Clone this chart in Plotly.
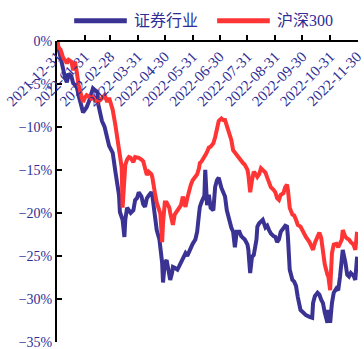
import plotly.graph_objects as go

# Trading-day samples (cumulative return since 2021-12-31, in %)
dates = [
    "2021-12-31", "2022-01-02", "2022-01-04", "2022-01-07", "2022-01-09", "2022-01-11",
    "2022-01-13", "2022-01-16", "2022-01-18", "2022-01-20", "2022-01-22", "2022-01-24",
    "2022-01-27", "2022-01-29", "2022-01-31", "2022-02-02", "2022-02-05", "2022-02-07",
    "2022-02-09", "2022-02-11", "2022-02-14", "2022-02-15", "2022-02-17", "2022-02-19",
    "2022-02-22", "2022-02-25", "2022-02-27", "2022-03-01", "2022-03-03", "2022-03-06",
    "2022-03-08", "2022-03-10", "2022-03-11", "2022-03-13", "2022-03-14", "2022-03-16",
    "2022-03-17", "2022-03-19", "2022-03-21", "2022-03-23", "2022-03-26", "2022-03-28",
    "2022-03-30", "2022-04-01", "2022-04-04", "2022-04-06", "2022-04-08", "2022-04-10",
    "2022-04-12", "2022-04-15", "2022-04-16", "2022-04-17", "2022-04-19", "2022-04-21",
    "2022-04-24", "2022-04-25", "2022-04-26", "2022-04-27", "2022-04-28", "2022-04-29",
    "2022-04-30", "2022-05-02", "2022-05-05", "2022-05-06", "2022-05-08", "2022-05-09",
    "2022-05-11", "2022-05-14", "2022-05-16", "2022-05-18", "2022-05-20", "2022-05-23",
    "2022-05-25", "2022-05-27", "2022-05-29", "2022-05-31", "2022-06-03", "2022-06-05",
    "2022-06-07", "2022-06-08", "2022-06-10", "2022-06-13", "2022-06-14", "2022-06-16",
    "2022-06-18", "2022-06-20", "2022-06-23", "2022-06-25", "2022-06-27", "2022-06-29",
    "2022-07-02", "2022-07-04", "2022-07-06", "2022-07-08", "2022-07-11", "2022-07-13",
    "2022-07-15", "2022-07-17", "2022-07-19", "2022-07-22", "2022-07-24", "2022-07-26",
    "2022-07-28", "2022-07-31", "2022-08-01", "2022-08-02", "2022-08-03", "2022-08-05",
    "2022-08-07", "2022-08-10", "2022-08-11", "2022-08-13", "2022-08-15", "2022-08-17",
    "2022-08-20", "2022-08-22", "2022-08-24", "2022-08-26", "2022-08-29", "2022-08-31",
    "2022-09-02", "2022-09-04", "2022-09-06", "2022-09-09", "2022-09-11", "2022-09-13",
    "2022-09-14", "2022-09-16", "2022-09-19", "2022-09-21", "2022-09-23", "2022-09-25",
    "2022-09-28", "2022-10-01", "2022-10-04", "2022-10-08", "2022-10-11", "2022-10-12",
    "2022-10-14", "2022-10-17", "2022-10-19", "2022-10-21", "2022-10-23", "2022-10-25",
    "2022-10-28", "2022-10-29", "2022-10-31", "2022-11-02", "2022-11-04", "2022-11-07",
    "2022-11-09", "2022-11-11", "2022-11-13", "2022-11-14", "2022-11-17", "2022-11-19",
    "2022-11-21", "2022-11-23", "2022-11-26", "2022-11-28", "2022-11-30",
]

hs300 = [
    0.0, -0.8, -1.0, -2.0, -2.2, -2.6,
    -2.2, -2.4, -3.4, -2.4, -3.6, -5.1,
    -6.3, -7.1, -6.6, -6.3, -6.5, -6.7,
    -6.5, -6.9, -7.1, -6.9, -6.9, -6.6,
    -6.3, -7.1, -6.6, -7.3, -8.0, -9.8,
    -11.2, -12.7, -13.3, -14.7, -19.4, -16.7,
    -14.4, -13.8, -13.5, -13.6, -14.1, -13.5,
    -13.5, -13.6, -13.8, -14.0, -14.8, -15.6,
    -15.2, -15.5, -15.8, -16.7, -17.7, -18.8,
    -19.7, -20.1, -21.7, -23.4, -21.2, -19.9,
    -18.8, -18.8, -19.4, -20.0, -21.0, -21.4,
    -20.2, -19.7, -19.3, -19.1, -18.1, -19.3,
    -18.3, -17.3, -16.7, -16.2, -15.8, -15.5,
    -14.8, -14.2, -14.0, -13.6, -13.3, -12.9,
    -12.4, -12.3, -11.9, -11.2, -10.1, -9.3,
    -9.0, -9.2, -9.2, -9.8, -10.7, -11.5,
    -12.7, -13.0, -13.3, -13.8, -14.1, -14.2,
    -14.4, -15.0, -15.6, -16.7, -17.6, -16.2,
    -15.2, -15.6, -15.8, -15.5, -14.8, -15.0,
    -15.3, -15.9, -16.4, -17.0, -17.3, -17.6,
    -18.3, -18.5, -17.9, -17.7, -17.0, -16.7,
    -17.3, -19.4, -20.2, -20.3, -20.8, -21.4,
    -21.6, -22.3, -22.8, -23.4, -24.1, -24.3,
    -23.5, -22.8, -22.3, -22.9, -24.7, -26.0,
    -27.2, -27.4, -29.0, -24.7, -23.7, -23.6,
    -24.0, -23.4, -23.1, -22.0, -22.8, -23.0,
    -23.1, -23.4, -23.7, -24.3, -22.2,
]

securities = [
    0.0, -1.0, -2.0, -3.4, -4.3, -4.8,
    -3.8, -4.1, -4.9, -5.1, -5.3, -6.3,
    -7.3, -8.3, -8.0, -7.7, -6.9, -6.3,
    -5.5, -5.7, -5.9, -7.4, -8.6, -9.3,
    -10.0, -11.5, -12.2, -12.6, -13.0, -15.2,
    -16.5, -17.9, -19.9, -20.6, -20.8, -22.8,
    -20.8, -19.4, -19.7, -20.0, -19.7, -18.5,
    -18.3, -17.6, -18.1, -19.0, -19.3, -18.3,
    -18.0, -17.6, -17.9, -18.7, -20.5, -22.0,
    -23.1, -24.0, -24.9, -25.8, -28.1, -27.2,
    -25.8, -25.5, -26.9, -27.8, -27.0, -26.3,
    -26.4, -26.6, -26.2, -25.8, -25.5, -24.7,
    -25.0, -24.5, -24.1, -23.6, -23.1, -22.2,
    -20.2, -19.3, -18.7, -18.0, -15.0, -19.1,
    -17.9, -19.4, -19.7, -17.0, -16.2, -15.9,
    -17.1, -17.6, -18.1, -19.7, -21.0, -21.7,
    -22.2, -24.0, -22.2, -22.2, -22.7, -22.9,
    -23.1, -23.7, -24.3, -25.7, -27.0, -25.1,
    -24.9, -23.1, -21.6, -21.2, -21.0, -20.8,
    -21.7, -21.5, -22.0, -22.4, -22.7, -22.8,
    -23.4, -23.1, -22.2, -21.7, -21.5, -21.6,
    -22.8, -26.6, -27.8, -28.0, -28.5, -29.8,
    -31.3, -31.6, -31.9, -32.1, -32.2, -30.5,
    -29.7, -29.3, -29.5, -30.1, -30.5, -31.6,
    -32.8, -31.3, -32.8, -30.5, -29.3, -28.8,
    -29.0, -27.4, -24.7, -24.3, -25.8, -27.2,
    -27.4, -27.0, -27.3, -27.8, -25.1,
]

month_ends = [
    "2021-12-31", "2022-01-31", "2022-02-28", "2022-03-31", "2022-04-30", "2022-05-31",
    "2022-06-30", "2022-07-31", "2022-08-31", "2022-09-30", "2022-10-31", "2022-11-30",
]
y_ticks = [0, -5, -10, -15, -20, -25, -30, -35]

series_names = ["证券行业", "沪深300"]

BLUE = "#3B3393"
RED = "#FF3535"
LABEL = "#2E2E96"
SERIF = "Liberation Serif, Times New Roman, Noto Sans CJK SC, serif"

fig = go.Figure()
fig.add_trace(go.Scatter(x=dates, y=securities, mode="lines", name=series_names[0],
                         line=dict(color=BLUE, width=4), showlegend=False))
fig.add_trace(go.Scatter(x=dates, y=hs300, mode="lines", name=series_names[1],
                         line=dict(color=RED, width=4), showlegend=False))

# Legend row above the plot: a line swatch followed by the series name
legend_y = 1.067
legend_items = [(0.057, 0.232, BLUE), (0.532, 0.707, RED)]
for (x0, x1, color), name in zip(legend_items, series_names):
    fig.add_shape(type="line", xref="paper", yref="paper", x0=x0, x1=x1,
                  y0=legend_y, y1=legend_y, line=dict(color=color, width=5))
    fig.add_annotation(xref="paper", yref="paper", x=x1 + 0.018, y=legend_y,
                       xanchor="left", yanchor="middle", text=name, showarrow=False,
                       font=dict(size=16, color=LABEL, family=SERIF))

fig.update_layout(
    width=364, height=349,
    margin=dict(l=57, r=6, t=41, b=7),
    paper_bgcolor="white", plot_bgcolor="white",
    font=dict(family=SERIF, color=LABEL),
    showlegend=False,
    xaxis=dict(
        type="date",
        range=["2021-12-31", "2022-12-01"],
        tickvals=month_ends, ticktext=month_ends,
        tickangle=-45,
        side="bottom", anchor="free", position=1.0,
        ticks="inside", ticklen=5, tickwidth=1.5, tickcolor="black",
        showline=True, linecolor="black", linewidth=2,
        showgrid=False, zeroline=False,
        tickfont=dict(size=15, color=LABEL, family=SERIF),
        ticklabeloverflow="allow",
        automargin=False,
    ),
    yaxis=dict(
        range=[-35.03, 0.01],
        tickvals=y_ticks,
        ticktext=[f"{v}%" if v == 0 else f"−{abs(v)}%" for v in y_ticks],
        ticks="inside", ticklen=5, tickwidth=1.5, tickcolor="black",
        showline=True, linecolor="black", linewidth=2,
        showgrid=False, zeroline=False,
        tickfont=dict(size=14, color=LABEL, family=SERIF),
        ticklabeloverflow="allow",
        automargin=False,
    ),
)

fig.write_html("out.html")
